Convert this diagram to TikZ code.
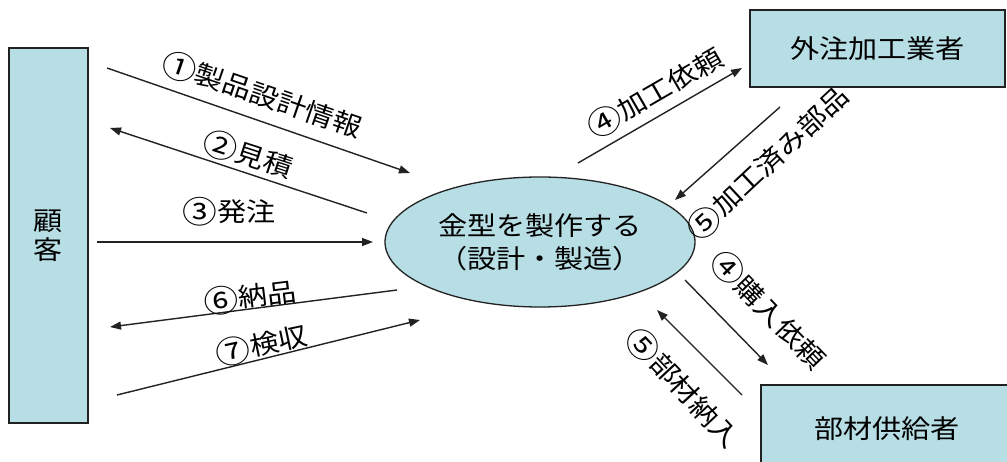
\documentclass[tikz,border=0pt]{standalone}
\usepackage{fontspec}
\setmainfont{Noto Sans CJK JP}[FakeStretch=1.12]
\usetikzlibrary{arrows.meta,shapes.geometric}
\definecolor{boxfill}{HTML}{B7DEE4}
\definecolor{linecol}{HTML}{222222}
\newcommand{\circnum}[1]{\raisebox{-2.2pt}{\fontsize{31}{30}\selectfont #1}}
\begin{document}
\begin{tikzpicture}[x=1pt,y=1pt,
  ent/.style={draw=linecol, line width=1.3pt, fill=boxfill, inner sep=0pt,
              font=\fontsize{26}{30}\selectfont},
  flow/.style={draw=linecol, line width=1.4pt, -{Triangle[length=11pt,width=8pt]}},
  lbl/.style={font=\fontsize{26}{30}\selectfont, inner sep=0pt}]
\useasboundingbox (0,0) rectangle (1007,461);
\clip (0,0) rectangle (1007,461);
\fill[white] (0,0) rectangle (1007,461);

% entities
\node[ent, minimum width=79pt, minimum height=375pt, align=center,
      font=\fontsize{26}{28.5}\selectfont] (cust) at (48.5,225.5) {顧\\客};
\node[ent, ellipse, minimum width=310pt, minimum height=130pt, align=center,
      font=\fontsize{26}{33}\selectfont] (mold) at (540,219) {金型を製作する\\（設計・製造）};
\node[ent, minimum width=255pt, minimum height=77pt] (outs) at (877.5,412.5) {外注加工業者};
\node[ent, minimum width=252pt, minimum height=88pt] (supp) at (887,32) {部材供給者};

% connector end points
\coordinate (a1s) at (107,393); \coordinate (a1e) at (410,288);
\coordinate (a2s) at (367,248); \coordinate (a2e) at (110,333);
\coordinate (a3s) at (97,219);  \coordinate (a3e) at (373,219);
\coordinate (a6s) at (397,171); \coordinate (a6e) at (110,134);
\coordinate (a7s) at (117,66);  \coordinate (a7e) at (420,141);
\coordinate (b4s) at (578,298); \coordinate (b4e) at (742,393);
\coordinate (b5s) at (780,354); \coordinate (b5e) at (675,261);
\coordinate (c4s) at (685,181); \coordinate (c4e) at (768,96);
\coordinate (c5s) at (742,66);  \coordinate (c5e) at (657,151);

\draw[flow] (a1s) -- (a1e);
\draw[flow] (a2s) -- (a2e);
\draw[flow] (a3s) -- (a3e);
\draw[flow] (a6s) -- (a6e);
\draw[flow] (a7s) -- (a7e);
\draw[flow] (b4s) -- (b4e);
\draw[flow] (b5s) -- (b5e);
\draw[flow] (c4s) -- (c4e);
\draw[flow] (c5s) -- (c5e);

% labels
\node[lbl, rotate=-19] (l1) at (262,366) {\circnum{①}製品設計情報};
\node[lbl, rotate=-18] (l2) at (248,306) {\circnum{②}見積};
\node[lbl] (l3) at (229,249) {\circnum{③}発注};
\node[lbl, rotate=7] (l6) at (250,164) {\circnum{⑥}納品};
\node[lbl, rotate=12] (l7) at (262,116) {\circnum{⑦}検収};
\node[lbl, rotate=30] (l4a) at (655,368) {\circnum{④}加工依頼};
\node[lbl, rotate=43] (l5a) at (768,298) {\circnum{⑤}加工済み部品};
\node[lbl, rotate=-46] (l4b) at (768,151) {\circnum{④}購入依頼};
\node[lbl, rotate=-47] (l5b) at (683,73) {\circnum{⑤}部材納入};
\end{tikzpicture}
\end{document}
